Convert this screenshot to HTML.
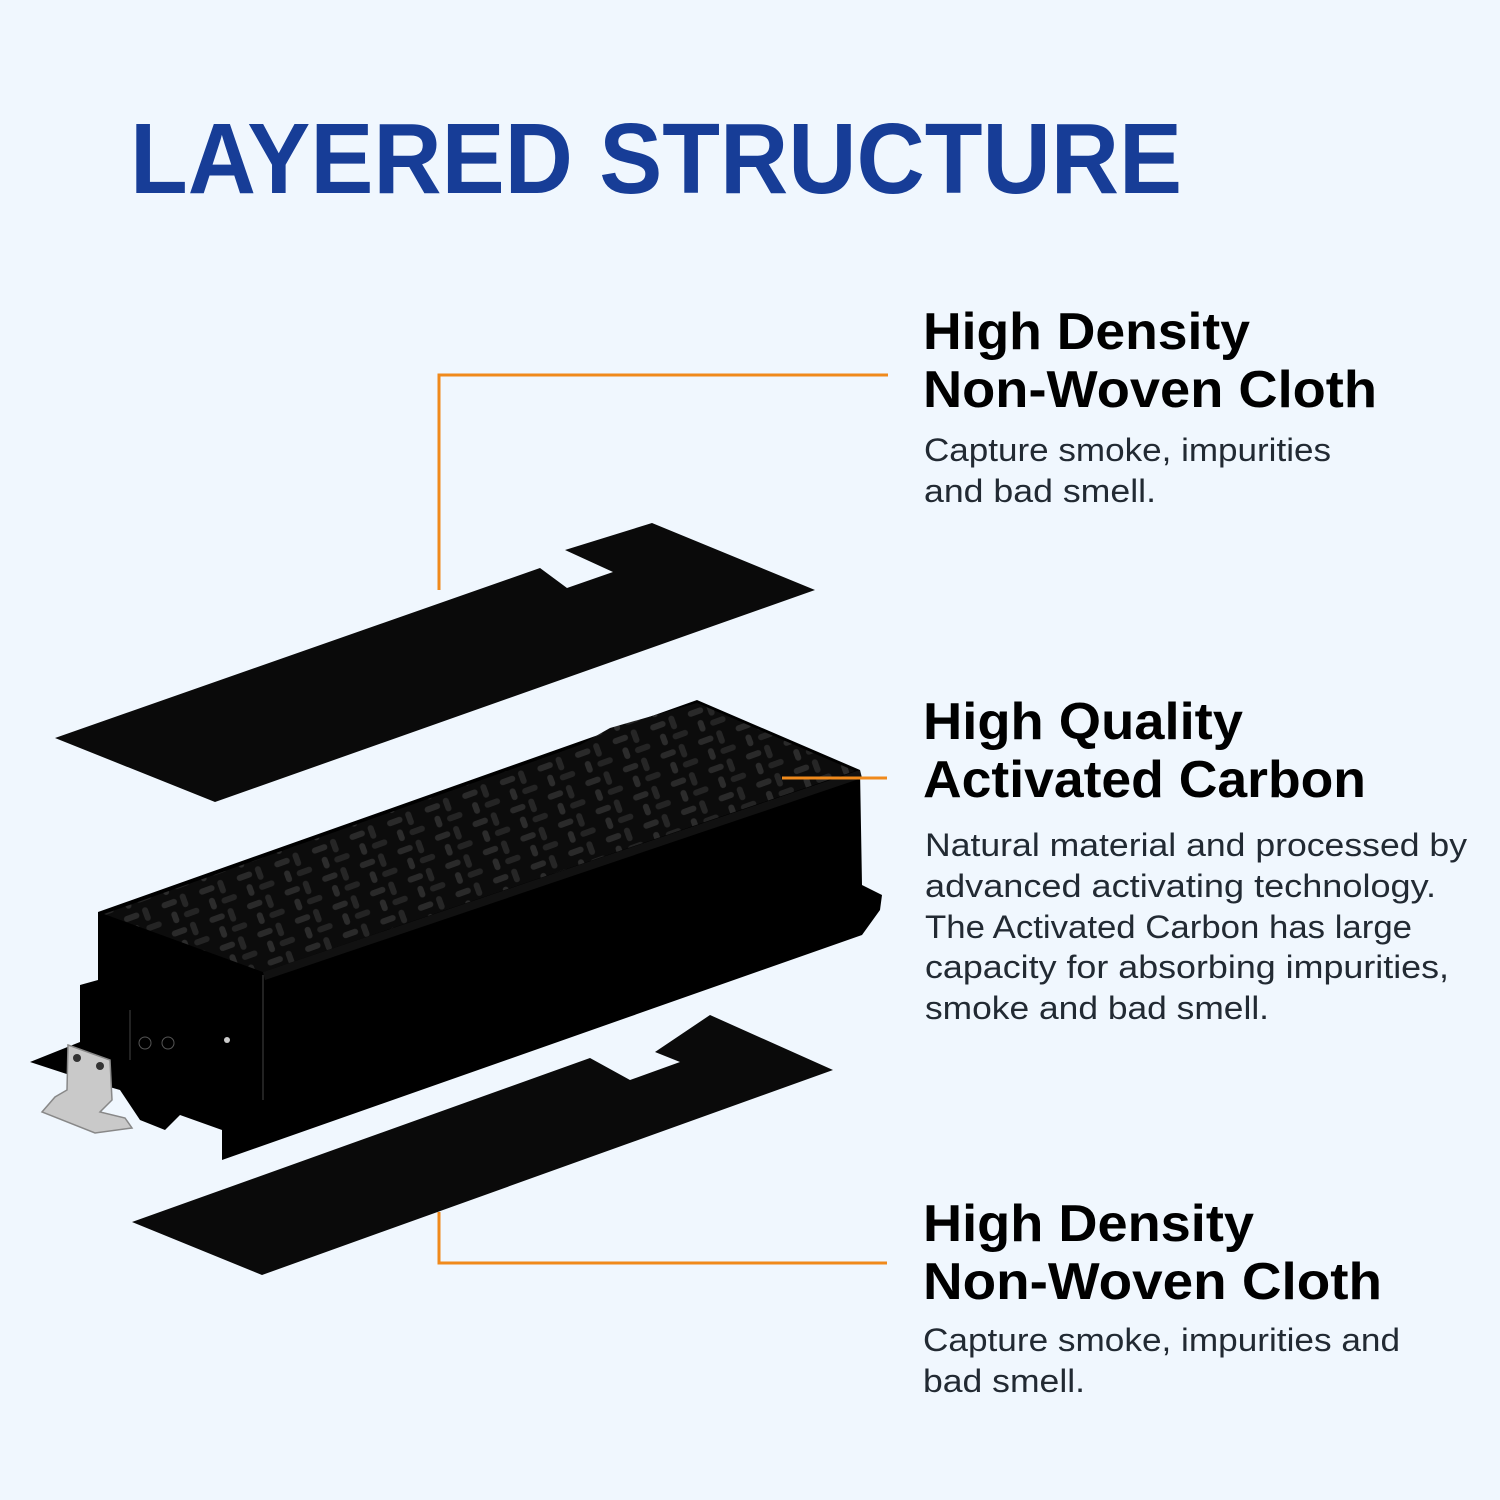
<!DOCTYPE html>
<html><head><meta charset="utf-8"><style>
html,body{margin:0;padding:0;background:#f0f7fe;}
svg{display:block}
</style></head><body>
<svg width="1500" height="1500" viewBox="0 0 1500 1500" xmlns="http://www.w3.org/2000/svg">
<rect width="1500" height="1500" fill="#f0f7fe"/>
<defs>
<pattern id="pel" width="40" height="30" patternUnits="userSpaceOnUse" patternTransform="rotate(-20)">
<rect width="40" height="30" fill="#0c0c0c"/>
<rect x="2" y="4" width="16" height="6" rx="3" fill="#2a2a2a"/>
<rect x="22" y="2" width="6" height="14" rx="3" fill="#262626"/>
<rect x="8" y="16" width="6" height="12" rx="3" fill="#2c2c2c"/>
<rect x="20" y="20" width="16" height="6" rx="3" fill="#242424"/>
</pattern>
</defs>
<text x="130" y="193" font-family="Liberation Sans, sans-serif" font-weight="bold" font-size="100" fill="#173d97" textLength="1052" lengthAdjust="spacingAndGlyphs">LAYERED STRUCTURE</text>

<!-- top cloth -->
<polygon points="55,738 540,568 567,588 613,572 565,550 652,523 815,590 215,802" fill="#0a0a0a"/>

<!-- box -->
<polygon points="30,1062 80,1042 80,985 98,980 98,912 697,700 860,770 862,885 882,895 880,910 862,935 222,1160 222,1130 180,1115 165,1130 140,1120 120,1090 85,1080" fill="#000"/>
<polygon points="104,914 580,745 610,728 697,703 855,771 263,972" fill="url(#pel)"/>
<polygon points="263,972 860,770 862,778 265,980" fill="#111"/>
<line x1="263" y1="975" x2="263" y2="1100" stroke="#222" stroke-width="2"/>
<line x1="130" y1="1010" x2="130" y2="1060" stroke="#444" stroke-width="1"/>
<circle cx="145" cy="1043" r="6" fill="none" stroke="#555"/>
<circle cx="168" cy="1043" r="6" fill="none" stroke="#555"/>
<circle cx="227" cy="1040" r="3" fill="#ccc"/>
<!-- metal clip -->
<polygon points="68,1045 110,1060 112,1100 100,1112 125,1118 132,1128 95,1133 42,1112 55,1097 67,1090" fill="#c9c9c9" stroke="#888" stroke-width="1.5"/>
<circle cx="77" cy="1058" r="4" fill="#333"/><circle cx="100" cy="1066" r="4" fill="#333"/>

<!-- bottom cloth -->
<polygon points="132,1222 590,1058 630,1080 680,1062 655,1052 710,1015 833,1070 262,1275" fill="#0a0a0a"/>

<!-- connectors -->
<g stroke="#f08a1c" stroke-width="3" fill="none">
<polyline points="439,590 439,375 888,375"/>
<line x1="782" y1="778" x2="887" y2="778"/>
<polyline points="439,1212 439,1263 887,1263"/>
</g>

<g font-family="Liberation Sans, sans-serif">
<g font-weight="bold" font-size="52" fill="#000">
<text x="923" y="349" textLength="327" lengthAdjust="spacingAndGlyphs">High Density</text>
<text x="923" y="407" textLength="454" lengthAdjust="spacingAndGlyphs">Non-Woven Cloth</text>
<text x="923" y="739" textLength="320" lengthAdjust="spacingAndGlyphs">High Quality</text>
<text x="923" y="797" textLength="443" lengthAdjust="spacingAndGlyphs">Activated Carbon</text>
<text x="923" y="1241" textLength="331" lengthAdjust="spacingAndGlyphs">High Density</text>
<text x="923" y="1299" textLength="459" lengthAdjust="spacingAndGlyphs">Non-Woven Cloth</text>
</g>
<g font-size="32" fill="#222a33">
<text x="924" y="461" textLength="407" lengthAdjust="spacingAndGlyphs">Capture smoke, impurities</text>
<text x="924" y="502" textLength="232" lengthAdjust="spacingAndGlyphs">and bad smell.</text>
<text x="925" y="856" textLength="542" lengthAdjust="spacingAndGlyphs">Natural material and processed by</text>
<text x="925" y="897" textLength="511" lengthAdjust="spacingAndGlyphs">advanced activating technology.</text>
<text x="925" y="938" textLength="487" lengthAdjust="spacingAndGlyphs">The Activated Carbon has large</text>
<text x="925" y="978" textLength="524" lengthAdjust="spacingAndGlyphs">capacity for absorbing impurities,</text>
<text x="925" y="1019" textLength="344" lengthAdjust="spacingAndGlyphs">smoke and bad smell.</text>
<text x="923" y="1351" textLength="477" lengthAdjust="spacingAndGlyphs">Capture smoke, impurities and</text>
<text x="923" y="1392" textLength="162" lengthAdjust="spacingAndGlyphs">bad smell.</text>
</g>
</g>
</svg>
</body></html>
